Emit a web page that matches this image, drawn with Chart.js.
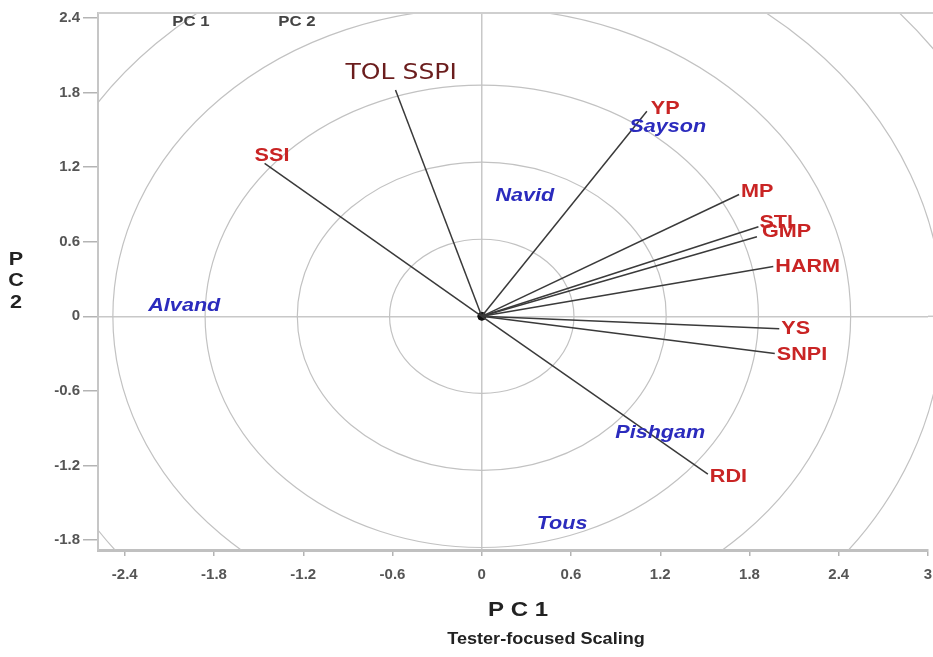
<!DOCTYPE html>
<html>
<head>
<meta charset="utf-8">
<title>Tester-focused Scaling biplot</title>
<script src="https://cdn.jsdelivr.net/npm/chart.js@4"></script>
<style>
  html, body { margin: 0; padding: 0; background: #fff; overflow: hidden; }
  canvas { display: block; }
</style>
</head>
<body>
<canvas id="biplot" width="933" height="657"></canvas>
<script>
// traits (vectors from the origin)
const traits = ['SSI', 'TOL SSPI', 'YP', 'MP', 'STI', 'GMP', 'HARM', 'YS', 'SNPI', 'RDI'];
const traitPC1 = [-1.46, -0.58, 1.11, 1.73, 1.86, 1.85, 1.96, 2.00, 1.97, 1.52];
const traitPC2 = [1.23, 1.82, 1.65, 0.98, 0.72, 0.64, 0.40, -0.10, -0.30, -1.27];

// genotypes (label only)
const genotypes = ['Alvand', 'Navid', 'Sayson', 'Pishgam', 'Tous'];
const genoPC1 = [-2.00, 0.29, 1.25, 1.20, 0.54];
const genoPC2 = [0.08, 0.97, 1.52, -0.94, -1.67];

// concentric rings and ticks
const ringRadii = [0.62, 1.24, 1.86, 2.48, 3.1, 3.72];
const xTicks = [-2.4, -1.8, -1.2, -0.6, 0, 0.6, 1.2, 1.8, 2.4, 3];
const yTicks = [-1.8, -1.2, -0.6, 0, 0.6, 1.2, 1.8, 2.4];

const FONT = "'Liberation Sans', Arial, sans-serif";
const RED = '#c92424';
const BLUE = '#2b2bbd';

// pixel nudges for trait labels (left edge / vertical middle relative to vector end)
const labelNudge = {
  'SSI': [-10, -7], 'TOL SSPI': [-50, -17], 'YP': [4, -2], 'MP': [2, -2], 'STI': [1, -4],
  'GMP': [5, -5], 'HARM': [2, 0], 'YS': [2, 0], 'SNPI': [2, 1], 'RDI': [2, 3]
};

function stretchedText(ctx, text, x, y, font, color, align, sx) {
  ctx.save();
  ctx.font = font;
  ctx.fillStyle = color;
  ctx.textAlign = align;
  ctx.textBaseline = 'middle';
  ctx.translate(x, y);
  ctx.scale(sx, 1);
  ctx.fillText(text, 0, 0);
  ctx.restore();
}

const ringsPlugin = {
  id: 'rings',
  beforeDatasetsDraw(chart) {
    const { ctx, chartArea: a, scales: { x, y } } = chart;
    const cx = x.getPixelForValue(0);
    const cy = y.getPixelForValue(0);
    ctx.save();
    ctx.beginPath();
    ctx.rect(a.left, a.top, chart.width - a.left, a.bottom - a.top);
    ctx.clip();
    ctx.strokeStyle = '#c2c2c2';
    ctx.lineWidth = 1.2;
    ringRadii.forEach(r => {
      const rx = x.getPixelForValue(r) - cx;
      const ry = cy - y.getPixelForValue(r);
      ctx.beginPath();
      ctx.ellipse(cx, cy, rx, ry, 0, 0, Math.PI * 2);
      ctx.stroke();
    });
    // zero line runs on to the edge
    ctx.strokeStyle = '#c8c8c8';
    ctx.lineWidth = 1.5;
    ctx.beginPath();
    ctx.moveTo(a.right, cy);
    ctx.lineTo(chart.width, cy);
    ctx.stroke();
    ctx.restore();
    // top frame
    ctx.save();
    ctx.strokeStyle = '#cfcfcf';
    ctx.lineWidth = 2;
    ctx.beginPath();
    ctx.moveTo(a.left, a.top);
    ctx.lineTo(chart.width, a.top);
    ctx.stroke();
    ctx.restore();
  }
};

const labelsPlugin = {
  id: 'labels',
  afterDatasetsDraw(chart) {
    const { ctx, scales: { x, y } } = chart;
    traits.forEach((name, i) => {
      const px = x.getPixelForValue(traitPC1[i]);
      const py = y.getPixelForValue(traitPC2[i]);
      const [dx, dy] = labelNudge[name];
      if (name === 'TOL SSPI') {
        stretchedText(ctx, name, px + dx, py + dy, "22px 'DejaVu Sans', sans-serif", '#6b1d1d', 'left', 1.14);
      } else {
        stretchedText(ctx, name, px + dx, py + dy, 'bold 18px ' + FONT, RED, 'left', 1.2);
      }
    });
    genotypes.forEach((name, i) => {
      const px = x.getPixelForValue(genoPC1[i]);
      const py = y.getPixelForValue(genoPC2[i]);
      stretchedText(ctx, name, px, py, 'italic bold 18px ' + FONT, BLUE, 'center', 1.2);
    });
  },
  afterDraw(chart) {
    const { ctx } = chart;
    stretchedText(ctx, 'PC 1', 191, 22, 'bold 14px ' + FONT, '#444', 'center', 1.2);
    stretchedText(ctx, 'PC 2', 297, 22, 'bold 14px ' + FONT, '#444', 'center', 1.2);
    stretchedText(ctx, 'P', 16, 260, 'bold 18px ' + FONT, '#222', 'center', 1.2);
    stretchedText(ctx, 'C', 16, 281, 'bold 18px ' + FONT, '#222', 'center', 1.2);
    stretchedText(ctx, '2', 16, 303, 'bold 18px ' + FONT, '#222', 'center', 1.2);
    stretchedText(ctx, 'P C 1', 518, 610, 'bold 20px ' + FONT, '#222', 'center', 1.2);
    stretchedText(ctx, 'Tester-focused Scaling', 546, 640, 'bold 16px ' + FONT, '#222', 'center', 1.13);
  }
};

const vectorSets = traits.map((name, i) => ({
  label: name,
  data: [{ x: 0, y: 0 }, { x: traitPC1[i], y: traitPC2[i] }],
  showLine: true,
  borderColor: '#3a3a3a',
  borderWidth: 1.5,
  pointRadius: 0
}));

const zeroGrid = c => (c.tick && c.tick.value === 0 ? '#c8c8c8' : 'rgba(0,0,0,0)');
const tickFont = { family: FONT, size: 15, weight: 'bold' };

const ctx = document.getElementById('biplot').getContext('2d');

const biplot = new Chart(ctx, {
  type: 'scatter',
  data: {
    datasets: [
      ...vectorSets,
      {
        label: 'genotypes',
        data: genotypes.map((g, i) => ({ x: genoPC1[i], y: genoPC2[i] })),
        pointRadius: 0
      },
      {
        label: 'origin',
        data: [{ x: 0, y: 0 }],
        pointRadius: 4,
        backgroundColor: '#111',
        borderColor: '#111'
      }
    ]
  },
  options: {
    responsive: false,
    animation: false,
    layout: { padding: { top: 13, left: 0, right: 0, bottom: 0 } },
    plugins: {
      legend: { display: false },
      tooltip: { enabled: false }
    },
    scales: {
      x: {
        type: 'linear',
        min: -2.58,
        max: 3.0,
        afterBuildTicks: s => { s.ticks = xTicks.map(v => ({ value: v })); },
        afterFit: s => {
          s.height = 107;
          s.paddingLeft = 0;
          s.paddingRight = 0;
        },
        ticks: {
          callback: v => String(v),
          font: tickFont,
          color: '#555',
          padding: 10,
          maxRotation: 0,
          autoSkip: false
        },
        grid: { color: zeroGrid, lineWidth: 1.5, tickLength: 6, tickColor: '#b4b4b4', tickWidth: 1.5 },
        border: { color: '#c0c0c0', width: 3 }
      },
      y: {
        type: 'linear',
        min: -1.88,
        max: 2.44,
        afterBuildTicks: s => { s.ticks = yTicks.map(v => ({ value: v })); },
        afterFit: s => { s.width = 98; },
        ticks: {
          callback: v => String(v),
          font: tickFont,
          color: '#555',
          padding: 3,
          autoSkip: false
        },
        grid: { color: zeroGrid, lineWidth: 1.5, tickLength: 15, tickColor: '#b4b4b4', tickWidth: 1.5 },
        border: { color: '#c6c6c6', width: 2 }
      }
    }
  },
  plugins: [ringsPlugin, labelsPlugin]
});
</script>
</body>
</html>
